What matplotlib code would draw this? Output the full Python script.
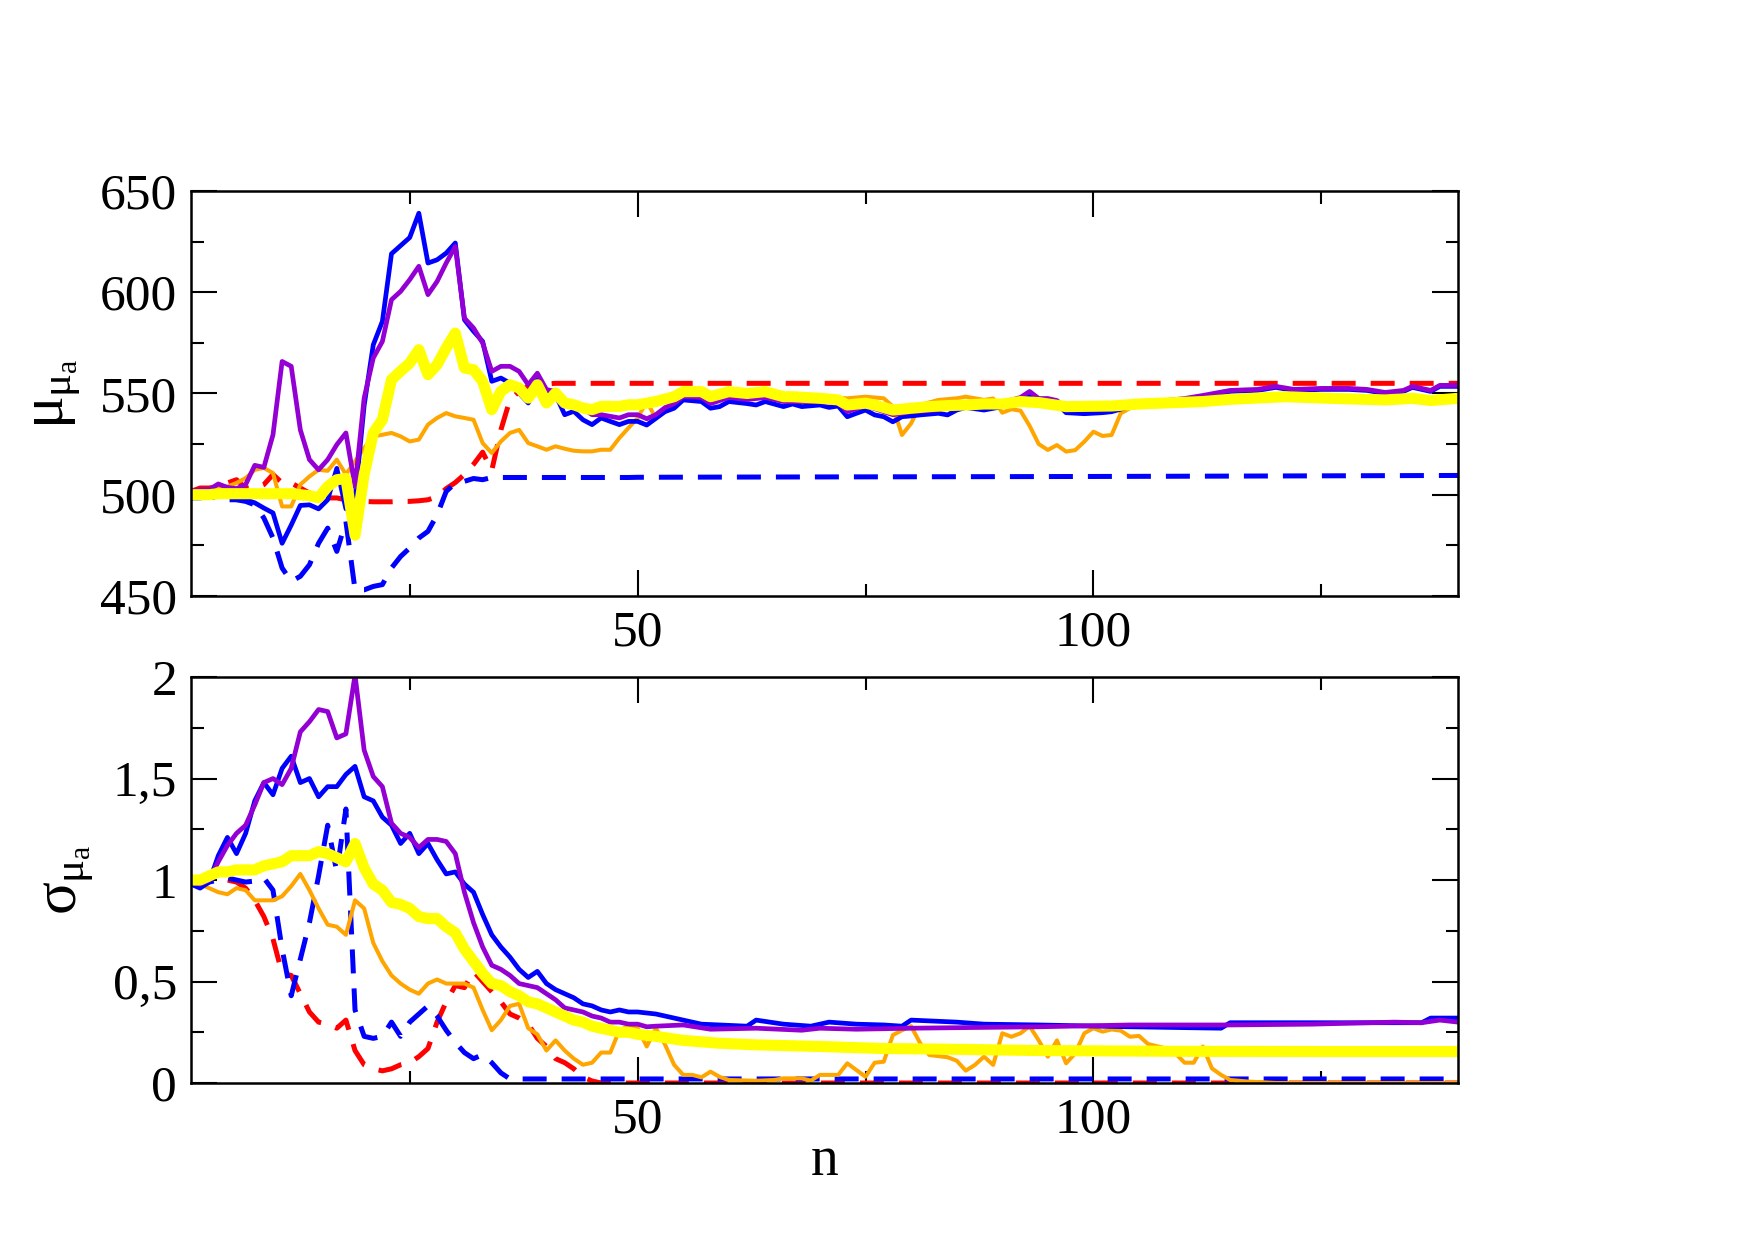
import numpy as np
import matplotlib
matplotlib.use('Agg')
import matplotlib.pyplot as plt
from matplotlib.ticker import MultipleLocator, FuncFormatter

plt.rcParams['font.family'] = ['Liberation Serif', 'DejaVu Serif']
plt.rcParams['mathtext.fontset'] = 'custom'
plt.rcParams['mathtext.rm'] = 'Liberation Serif'
plt.rcParams['mathtext.it'] = 'Liberation Serif'

n_head = list(range(1, 51))

# ---- top panel: mu_mu_a ----
mu_blue = [498.4, 498.4, 499, 501, 501, 497.5, 497.5, 496, 493.4, 491,
           476, 485, 494.7, 495, 493, 497.5, 513, 493, 498, 544,
           574, 585.6, 619, 623, 627, 639, 614.4, 616, 619.3, 624.3,
           586.4, 580.7, 575.7, 556, 557.6, 555.1, 550.2, 545.3, 556.8, 551,
           549.4, 539.5, 541.2, 537, 534.6, 537.9, 536.2, 534.6, 536.2, 536.2]
mu_blue_tail_n = [51, 52, 53, 54, 55, 57, 58, 59, 60, 62, 63, 64, 66, 67, 68, 70, 71, 72, 73, 74,
                  75, 76, 77, 78, 79, 80, 81, 83, 84, 85, 86, 88, 90, 92, 93, 94, 95, 96, 97, 99,
                  101, 102, 104, 106, 110, 112, 115, 118, 120, 122, 125, 128, 130, 132, 134, 135,
                  137, 138, 140]
mu_blue_tail = [534.4, 537.7, 541, 542.7, 546.8, 546, 542.7, 543.5, 546, 545, 544.3, 546, 543.5,
                544.8, 543.5, 544.3, 543.1, 543.8, 538.5, 540.2, 541.8, 539.4, 538.5, 536, 538.5,
                538.9, 539.4, 540.2, 539.4, 541.8, 543.1, 541.8, 543.5, 546, 549.2, 546, 546, 545,
                540.5, 540, 540.5, 541, 543.5, 545, 547, 548.5, 551, 551.5, 553, 551.5, 552, 552,
                551.5, 550, 551, 553, 551, 553.5, 553.5]

mu_purple = [501.6, 502.5, 502.5, 505.3, 503.6, 503, 505, 514.5, 513.5, 529.6,
             565.8, 563.4, 532, 517.3, 512.3, 517.3, 524.7, 530.5, 504, 547.7,
             567.5, 575.7, 596.3, 600.4, 606.2, 612.8, 598.8, 605.3, 614.4, 622.6,
             587.2, 582.3, 574.9, 560.9, 563.4, 563.4, 560.9, 554.3, 560, 551.9,
             551, 546, 544.4, 542.8, 539.5, 539.5, 538.7, 537.9, 539.5, 539.5]
mu_purple_tail_n = [51, 52, 53, 54, 55, 57, 58, 60, 62, 64, 66, 68, 70, 72, 73, 75, 77, 78, 80,
                    83, 85, 88, 90, 92, 93, 94, 95, 96, 97, 99, 101, 102, 104, 106, 110, 112, 115,
                    118, 120, 122, 125, 128, 130, 132, 134, 135, 137, 138, 140]
mu_purple_tail = [537.5, 539.5, 543, 545, 548.5, 548, 545, 548, 547, 548, 546, 546, 546, 545.5,
                  541, 544, 541, 539.5, 541, 542, 544, 544, 545.5, 548, 551, 547.5, 547.5, 546.5,
                  542.5, 542, 542.5, 542.5, 544, 545.5, 547.5, 549, 551.5, 552, 553.5, 552, 552.5,
                  552.5, 552, 550.5, 551.5, 553.5, 551.5, 554, 554]

mu_yellow = [500, 500, 500, 500.5, 500.5, 500.5, 500.5, 500.5, 500.5, 500.5,
             500.5, 500.5, 500, 499.5, 498.5, 504, 507.4, 508, 480, 510,
             530.5, 537, 556.8, 561, 565, 571.6, 559.3, 564.2, 572.4, 579.8,
             562.6, 561.7, 556, 542, 551, 554.3, 552.7, 547.7, 554.3, 545.3,
             550.2, 545.3, 544.4, 542.8, 542, 543.6, 543.6, 543.6, 544.4, 544.4]
mu_yellow_tail_n = [52, 54, 55, 57, 58, 60, 62, 64, 66, 67, 70, 72, 73, 75, 76, 78, 80, 82, 84,
                    86, 88, 90, 92, 94, 97, 102, 105, 112, 115, 121, 126, 132, 135, 137, 140]
mu_yellow_tail = [546, 548.4, 550.9, 550.9, 548.4, 550.9, 550, 550.9, 548.4, 548.4, 547.6, 546.8,
                  544.3, 545.2, 544.3, 541.8, 542.7, 543.5, 544, 544.3, 544.8, 544.8, 546, 545.5,
                  543.5, 543.8, 544.8, 546, 547.1, 548.4, 547.6, 546.8, 547.6, 546.5, 547.6]

mu_orange = [501.6, 501.6, 502, 503.3, 504, 505.8, 508.2, 512.3, 513.2, 510.7,
             494.2, 494.2, 505, 509, 512.3, 511.8, 517.3, 510, 516.5, 523,
             528.8, 529.6, 530.5, 528.8, 526.3, 527.2, 534.6, 537.9, 540.3, 538.7,
             537.9, 537, 525.5, 520.6, 526.3, 530.5, 532, 525.5, 523.9, 522.2,
             523.9, 522.7, 521.7, 521.4, 521.4, 522.2, 522.2, 528, 533, 537.9]
mu_orange_tail_n = [51, 52, 53, 54, 55, 57, 60, 64, 68, 70, 73, 75, 77, 78, 79, 80, 81, 83, 85,
                    86, 88, 89, 90, 91, 92, 93, 94, 95, 96, 97, 98, 99, 100, 101, 102, 103, 104,
                    106, 110, 115, 120, 126, 132, 137, 140]
mu_orange_tail = [546, 537.7, 541.8, 544.3, 548.4, 549, 549, 549, 548.5, 548, 547.6, 548.4, 547.6,
                  543.5, 529.5, 535.2, 544.3, 546.8, 547.6, 548.4, 546.8, 547.5, 540.5, 542.2,
                  541.5, 534, 525, 522.1, 524.5, 521.3, 522, 526.2, 531.1, 529, 529.5, 540.2,
                  542.7, 544.5, 546, 547, 548, 547.3, 546.5, 546.5, 547.3]

mu_red = [501.6, 503.3, 503.3, 504, 505.8, 507.4, 503.3, 503.3, 505, 510,
          505.8, 505.8, 503.3, 500.8, 499.2, 498.4, 498.4, 497.5, 497, 496.7,
          496.5, 496.5, 496.5, 496.7, 496.7, 497, 497.5, 499, 503, 506,
          510, 515, 521, 512, 532, 547, 551, 553.5, 554.3, 554.7,
          555, 555, 555, 555, 555, 555, 555, 555, 555, 555]
mu_red_tail_n = [140]
mu_red_tail = [555]

mu_bdash = [498.4, 499, 499, 498.4, 497.5, 497.5, 496.7, 495, 488.5, 478.6,
            463.8, 457.2, 459.7, 465.4, 476, 483.5, 472, 486.8, 453, 453,
            454.7, 455.6, 463.8, 469.5, 473.7, 478.6, 481.9, 490, 501.6, 505.8,
            506.6, 508, 507.4, 508.5, 508.5, 508.5, 508.5, 508.5, 508.5, 508.5,
            508.5, 508.5, 508.5, 508.5, 508.5, 508.5, 508.5, 508.5, 508.5, 508.6]
mu_bdash_tail_n = [60, 100, 140]
mu_bdash_tail = [508.7, 509, 509.5]

# ---- bottom panel: sigma_mu_a ----
sg_blue = [0.98, 0.96, 0.99, 1.12, 1.21, 1.13, 1.23, 1.39, 1.48, 1.42,
           1.55, 1.61, 1.48, 1.50, 1.41, 1.46, 1.46, 1.52, 1.56, 1.41,
           1.39, 1.31, 1.27, 1.18, 1.23, 1.13, 1.18, 1.10, 1.03, 1.04,
           0.98, 0.94, 0.83, 0.73, 0.67, 0.62, 0.56, 0.52, 0.55, 0.49,
           0.46, 0.44, 0.42, 0.39, 0.38, 0.36, 0.35, 0.36, 0.35, 0.35]
sg_blue_tail_n = [52, 54, 55, 57, 59, 62, 63, 66, 69, 71, 74, 77, 79, 80, 85, 88, 94, 104, 114,
                  115, 125, 136, 137, 140]
sg_blue_tail = [0.34, 0.32, 0.31, 0.29, 0.286, 0.28, 0.31, 0.29, 0.28, 0.30, 0.29, 0.286, 0.28,
                0.31, 0.30, 0.29, 0.286, 0.277, 0.27, 0.297, 0.297, 0.297, 0.32, 0.32]

sg_purple = [0.99, 0.98, 1.0, 1.09, 1.17, 1.23, 1.27, 1.37, 1.48, 1.50,
             1.47, 1.55, 1.73, 1.78, 1.84, 1.83, 1.70, 1.72, 2.01, 1.64,
             1.51, 1.46, 1.28, 1.23, 1.21, 1.16, 1.20, 1.20, 1.19, 1.13,
             0.94, 0.79, 0.67, 0.58, 0.56, 0.53, 0.49, 0.48, 0.47, 0.44,
             0.41, 0.37, 0.36, 0.35, 0.33, 0.32, 0.30, 0.30, 0.29, 0.29]
sg_purple_tail_n = [51, 52, 55, 58, 63, 68, 70, 74, 80, 88, 94, 104, 115, 124, 133, 136, 138, 140]
sg_purple_tail = [0.277, 0.28, 0.286, 0.265, 0.27, 0.26, 0.27, 0.265, 0.27, 0.274, 0.277, 0.286,
                  0.286, 0.29, 0.30, 0.297, 0.31, 0.30]

sg_yellow = [1.0, 1.0, 1.02, 1.04, 1.04, 1.05, 1.05, 1.05, 1.07, 1.08,
             1.09, 1.12, 1.12, 1.12, 1.14, 1.13, 1.11, 1.09, 1.18, 1.06,
             0.98, 0.95, 0.89, 0.88, 0.86, 0.82, 0.81, 0.81, 0.77, 0.74,
             0.66, 0.60, 0.54, 0.49, 0.48, 0.45, 0.43, 0.40, 0.39, 0.37,
             0.35, 0.33, 0.31, 0.30, 0.28, 0.27, 0.26, 0.25, 0.25, 0.24]
sg_yellow_tail_n = [52, 55, 59, 63, 70, 77, 85, 94, 110, 125, 140]
sg_yellow_tail = [0.23, 0.21, 0.196, 0.188, 0.18, 0.17, 0.166, 0.16, 0.156, 0.155, 0.155]

sg_orange = [0.99, 0.98, 0.96, 0.94, 0.93, 0.96, 0.95, 0.90, 0.90, 0.90,
             0.92, 0.97, 1.03, 0.95, 0.86, 0.78, 0.77, 0.73, 0.90, 0.86,
             0.69, 0.60, 0.53, 0.49, 0.46, 0.44, 0.49, 0.51, 0.49, 0.49,
             0.49, 0.47, 0.36, 0.26, 0.31, 0.38, 0.39, 0.27, 0.24, 0.16,
             0.21, 0.16, 0.12, 0.09, 0.10, 0.15, 0.15, 0.26, 0.28, 0.27]
sg_orange_tail_n = [51, 52, 53, 54, 55, 56, 57, 58, 59, 60, 63, 65, 66, 68, 69, 70, 72, 73, 74,
                    75, 76, 77, 78, 79, 80, 81, 82, 84, 85, 86, 87, 88, 89, 90, 91, 92, 93, 94,
                    95, 96, 97, 98, 99, 100, 101, 102, 103, 104, 105, 106, 108, 109, 110, 111,
                    112, 113, 114, 115, 117, 120, 140]
sg_orange_tail = [0.18, 0.27, 0.19, 0.09, 0.04, 0.04, 0.028, 0.056, 0.03, 0.015, 0.011, 0.015,
                  0.023, 0.023, 0.012, 0.04, 0.04, 0.097, 0.064, 0.031, 0.10, 0.105, 0.236, 0.26,
                  0.28, 0.196, 0.138, 0.127, 0.11, 0.061, 0.089, 0.13, 0.089, 0.245, 0.228, 0.245,
                  0.28, 0.21, 0.13, 0.21, 0.097, 0.146, 0.245, 0.27, 0.253, 0.264, 0.258, 0.228,
                  0.232, 0.192, 0.17, 0.146, 0.10, 0.10, 0.18, 0.072, 0.04, 0.015, 0.007, 0.0, 0.0]

sg_red = [1.0, 1.01, 1.03, 1.01, 1.0, 0.99, 0.96, 0.90, 0.82, 0.71,
          0.54, 0.53, 0.44, 0.35, 0.30, 0.29, 0.27, 0.31, 0.16, 0.09,
          0.07, 0.06, 0.07, 0.09, 0.10, 0.13, 0.17, 0.30, 0.40, 0.48,
          0.47, 0.55, 0.50, 0.45, 0.40, 0.34, 0.32, 0.29, 0.22, 0.18,
          0.12, 0.10, 0.07, 0.03, 0.01, 0.0, 0.0, 0.0, 0.0, 0.0]
sg_red_tail_n = [140]
sg_red_tail = [0.0]

sg_bdash = [0.98, 0.97, 0.99, 1.0, 1.01, 1.0, 0.99, 0.995, 1.01, 0.95,
            0.66, 0.43, 0.61, 0.79, 1.02, 1.27, 1.04, 1.35, 0.36, 0.23,
            0.22, 0.23, 0.30, 0.23, 0.30, 0.34, 0.38, 0.33, 0.26, 0.20,
            0.15, 0.12, 0.14, 0.10, 0.05, 0.02, 0.02, 0.02, 0.02, 0.02,
            0.02, 0.02, 0.02, 0.02, 0.02, 0.02, 0.02, 0.02, 0.02, 0.02]
sg_bdash_tail_n = [60, 100, 140]
sg_bdash_tail = [0.02, 0.02, 0.02]

c_blue = '#0000ff'
c_purple = '#9400d3'
c_yellow = '#ffff00'
c_orange = '#ffa500'
c_red = '#ff0000'


def draw(ax, red, red_n, red_t, bd, bd_n, bd_t, org, org_n, org_t,
         blu, blu_n, blu_t, pur, pur_n, pur_t, yel, yel_n, yel_t):
    ax.plot(n_head + red_n, red + red_t, color=c_red, lw=3.6, dashes=(4.8, 3.0))
    ax.plot(n_head + bd_n, bd + bd_t, color=c_blue, lw=3.6, dashes=(4.8, 3.0))
    ax.plot(n_head + org_n, org + org_t, color=c_orange, lw=2.9)
    ax.plot(n_head + blu_n, blu + blu_t, color=c_blue, lw=3.4)
    ax.plot(n_head + pur_n, pur + pur_t, color=c_purple, lw=3.4)
    ax.plot(n_head + yel_n, yel + yel_t, color=c_yellow, lw=8)


def style(ax):
    ax.set_xlim(1, 140)
    ax.xaxis.set_major_locator(MultipleLocator(50))
    ax.xaxis.set_minor_locator(MultipleLocator(25))
    ax.tick_params(which='both', direction='in', top=True, right=True,
                   width=1.5, labelsize=37, pad=10)
    ax.tick_params(which='major', length=19)
    ax.tick_params(which='minor', length=9)
    for s in ax.spines.values():
        s.set_linewidth(1.8)


fig = plt.figure(figsize=[17.55, 12.4], dpi=100)
ax1 = fig.add_axes([0.1088, 0.5194, 0.7220, 0.3266])
ax2 = fig.add_axes([0.1088, 0.1266, 0.7220, 0.3274])

draw(ax1, mu_red, mu_red_tail_n, mu_red_tail, mu_bdash, mu_bdash_tail_n, mu_bdash_tail,
     mu_orange, mu_orange_tail_n, mu_orange_tail, mu_blue, mu_blue_tail_n, mu_blue_tail,
     mu_purple, mu_purple_tail_n, mu_purple_tail, mu_yellow, mu_yellow_tail_n, mu_yellow_tail)
draw(ax2, sg_red, sg_red_tail_n, sg_red_tail, sg_bdash, sg_bdash_tail_n, sg_bdash_tail,
     sg_orange, sg_orange_tail_n, sg_orange_tail, sg_blue, sg_blue_tail_n, sg_blue_tail,
     sg_purple, sg_purple_tail_n, sg_purple_tail, sg_yellow, sg_yellow_tail_n, sg_yellow_tail)

style(ax1)
ax1.set_ylim(450, 650)
ax1.yaxis.set_major_locator(MultipleLocator(50))
ax1.yaxis.set_minor_locator(MultipleLocator(25))
ax1.set_ylabel(r'$\mu_{\mu_a}$', fontsize=44, labelpad=12)

style(ax2)
ax2.set_ylim(0, 2)
ax2.yaxis.set_major_locator(MultipleLocator(0.5))
ax2.yaxis.set_minor_locator(MultipleLocator(0.25))
ax2.yaxis.set_major_formatter(FuncFormatter(lambda v, p: f'{v:g}'.replace('.', ',')))
ax2.set_ylabel(r'$\sigma_{\mu_a}$', fontsize=44, labelpad=12)
ax2.set_xlabel('n', fontsize=40, labelpad=-6)

fig.savefig('out.png', dpi=100)
